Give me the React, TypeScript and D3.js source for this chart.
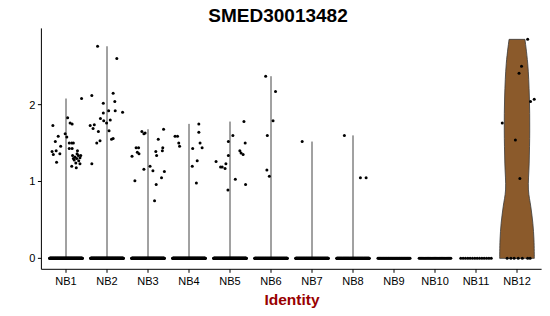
import React from "react";
import * as d3 from "d3";

const TITLE = "SMED30013482";
const X_TITLE = "Identity";
const CATEGORIES = ["NB1", "NB2", "NB3", "NB4", "NB5", "NB6", "NB7", "NB8", "NB9", "NB10", "NB11", "NB12"];
const Y_TICKS = [0, 1, 2];

// non-zero expression values per identity, with the jitter (fraction of a category step)
const NB1_VALUES = [1.73, 1.52, 1.59, 1.46, 1.39, 1.35, 1.4, 1.36, 1.25, 1.62, 1.58, 1.83, 1.76, 1.75, 1.5, 1.5, 1.5, 1.43, 1.43, 1.4, 1.34, 1.32, 1.34, 1.34, 1.3, 1.3, 1.31, 1.2, 1.18, 1.23, 1.24, 2.08, 1.28, 1.36, 1.27];
const NB1_JITTER = [-0.32, -0.26, -0.19, -0.13, -0.34, -0.31, -0.24, -0.15, -0.23, -0.02, 0.02, 0.04, 0.1, 0.15, 0.08, 0.14, 0.18, 0.08, 0.15, 0.28, 0.16, 0.22, 0.3, 0.36, 0.18, 0.26, 0.34, 0.14, 0.25, 0.34, 0.24, 0.38, 0.2, 0.27, 0.31];
const NB2_VALUES = [2.76, 2.6, 2.12, 2.15, 2.02, 2.04, 1.92, 1.92, 1.9, 1.89, 1.82, 1.79, 1.8, 1.76, 1.73, 1.74, 1.69, 1.65, 1.66, 1.56, 1.55, 1.53, 1.5, 1.23];
const NB2_JITTER = [-0.23, 0.24, -0.37, 0.15, -0.09, 0.19, 0.04, 0.2, 0.38, -0.09, -0.16, -0.08, 0.08, -0.01, -0.41, -0.31, -0.34, -0.21, 0.05, 0.15, 0.11, -0.17, -0.25, -0.37];
const NB3_VALUES = [1.65, 1.62, 1.63, 1.68, 1.55, 1.44, 1.44, 1.38, 1.36, 1.33, 1.39, 1.34, 1.44, 1.4, 1.16, 1.2, 1.14, 1.13, 1.01, 1.05, 0.96, 0.75];
const NB3_JITTER = [-0.15, -0.1, -0.07, 0.38, 0.25, -0.29, -0.23, -0.26, -0.22, -0.39, 0.19, 0.21, 0.36, 0.35, -0.1, 0.05, 0.12, 0.4, -0.32, 0.33, 0.2, 0.16];
const NB4_VALUES = [1.59, 1.59, 1.5, 1.46, 1.75, 1.64, 1.43, 1.5, 1.44, 1.27, 1.2, 0.98];
const NB4_JITTER = [-0.34, -0.28, -0.25, -0.23, 0.24, 0.24, 0.09, 0.27, 0.32, 0.2, 0.08, 0.18];
const NB5_VALUES = [1.26, 1.19, 1.19, 1.17, 1.23, 1.34, 1.52, 1.6, 1.78, 1.5, 1.4, 1.37, 1.35, 1.03, 0.89, 0.96];
const NB5_JITTER = [-0.34, -0.23, -0.19, -0.12, -0.1, -0.04, -0.04, 0.07, 0.34, 0.37, 0.24, 0.27, 0.32, 0.13, -0.05, 0.38];
const NB6_VALUES = [2.37, 2.17, 1.79, 1.6, 1.15, 1.07];
const NB6_JITTER = [-0.13, 0.11, 0.05, -0.09, -0.1, -0.04];
const NB7_VALUES = [1.52];
const NB7_JITTER = [-0.24];
const NB8_VALUES = [1.6, 1.05, 1.05];
const NB8_JITTER = [-0.21, 0.18, 0.32];
const NB9_VALUES: number[] = [];
const NB9_JITTER: number[] = [];
const NB10_VALUES: number[] = [];
const NB10_JITTER: number[] = [];
const NB11_VALUES: number[] = [];
const NB11_JITTER: number[] = [];
const NB12_VALUES = [2.85, 2.5, 2.41, 2.04, 2.07, 1.76, 1.54, 1.04, 0, 0, 0, 0, 0, 0, 0];
const NB12_JITTER = [0.26, 0.11, 0.05, 0.33, 0.42, -0.36, -0.04, 0.07, -0.24, -0.15, -0.07, 0.03, 0.13, 0.26, 0.32];

// number of zero-expression cells per identity (NB12 zeros listed above)
const ZERO_COUNTS = [240, 240, 220, 220, 220, 150, 150, 130, 45, 28, 14, 0];

// NB12 violin outline: levels and relative half widths
const NB12_DENSITY_LEVELS = [0, 0.24, 0.455, 0.67, 0.89, 1.24, 1.67, 2.1, 2.54, 2.85];
const NB12_DENSITY_WIDTHS = [0.94, 0.92, 0.86, 0.75, 0.62, 0.66, 0.69, 0.67, 0.58, 0.43];

const GROUP_VALUES = [NB1_VALUES, NB2_VALUES, NB3_VALUES, NB4_VALUES, NB5_VALUES, NB6_VALUES, NB7_VALUES, NB8_VALUES, NB9_VALUES, NB10_VALUES, NB11_VALUES, NB12_VALUES];
const GROUP_JITTER = [NB1_JITTER, NB2_JITTER, NB3_JITTER, NB4_JITTER, NB5_JITTER, NB6_JITTER, NB7_JITTER, NB8_JITTER, NB9_JITTER, NB10_JITTER, NB11_JITTER, NB12_JITTER];

const W = 550;
const H = 316;
const PANEL = { left: 41.4, right: 541.6, top: 28.4, bottom: 269.3 };

export default function App() {
  const x = d3.scalePoint<string>().domain(CATEGORIES).range([PANEL.left, PANEL.right]).padding(0.6);
  const step = x.step();
  const allMax = d3.max(GROUP_VALUES.flat()) as number;
  const pad = allMax * 0.05;
  const y = d3.scaleLinear().domain([-pad, allMax + pad]).range([PANEL.bottom, PANEL.top]);
  const halfMax = (step * 0.9) / 2;

  const nb12Area = d3
    .area<number>()
    .y((_, i) => y(NB12_DENSITY_LEVELS[i]))
    .x0((_, i) => (x("NB12") as number) - NB12_DENSITY_WIDTHS[i] * halfMax)
    .x1((_, i) => (x("NB12") as number) + NB12_DENSITY_WIDTHS[i] * halfMax)
    .curve(d3.curveCatmullRom);

  const font = "'Liberation Sans', Arial, Helvetica, sans-serif";
  const r = 1.5;

  return (
    <svg width={W} height={H} style={{ position: "absolute", left: 0, top: 0, background: "#fff" }}>
      <text x={278} y={22} textAnchor="middle" fontFamily={font} fontWeight="bold" fontSize={19} fill="#000">
        {TITLE}
      </text>

      {/* violins */}
      {CATEGORIES.map((c, i) => {
        const vals = GROUP_VALUES[i];
        if (!vals.length) return null;
        const cx = x(c) as number;
        if (c === "NB12") {
          return (
            <path key={c} d={nb12Area(NB12_DENSITY_LEVELS) || ""} fill="#8B5A2B" stroke="#3a3a3a" strokeWidth={0.8} />
          );
        }
        const mx = d3.max(vals) as number;
        return <line key={c} x1={cx} x2={cx} y1={y(0)} y2={y(mx)} stroke="#444" strokeWidth={1} />;
      })}

      {/* zero points */}
      {CATEGORIES.map((c, i) => {
        const n = ZERO_COUNTS[i];
        const cx = x(c) as number;
        return d3.range(n).map((k) => (
          <circle key={c + "z" + k} cx={cx + (-0.4 + (0.8 * (k + 0.5)) / n) * step} cy={y(0)} r={r} fill="#000" />
        ));
      })}

      {/* nonzero points */}
      {CATEGORIES.map((c, i) =>
        GROUP_VALUES[i].map((v, k) => (
          <circle key={c + "p" + k} cx={(x(c) as number) + GROUP_JITTER[i][k] * step} cy={y(v)} r={r} fill="#000" />
        ))
      )}

      {/* axes */}
      <line x1={PANEL.left} x2={PANEL.left} y1={PANEL.top} y2={PANEL.bottom} stroke="#000" strokeWidth={1} />
      <line x1={PANEL.left} x2={PANEL.right} y1={PANEL.bottom} y2={PANEL.bottom} stroke="#000" strokeWidth={1} />
      {Y_TICKS.map((t) => (
        <g key={"y" + t}>
          <line x1={PANEL.left - 3.5} x2={PANEL.left} y1={y(t)} y2={y(t)} stroke="#000" strokeWidth={1} />
          <text x={PANEL.left - 6} y={y(t)} dy="0.36em" textAnchor="end" fontFamily={font} fontSize={11} fill="#000">
            {t}
          </text>
        </g>
      ))}
      {CATEGORIES.map((c) => (
        <g key={"x" + c}>
          <line x1={x(c)} x2={x(c)} y1={PANEL.bottom} y2={PANEL.bottom + 3.5} stroke="#000" strokeWidth={1} />
          <text x={x(c)} y={285} textAnchor="middle" fontFamily={font} fontSize={11} fill="#000">
            {c}
          </text>
        </g>
      ))}
      <text x={292} y={304.5} textAnchor="middle" fontFamily={font} fontWeight="bold" fontSize={15.5} fill="#990000">
        {X_TITLE}
      </text>
    </svg>
  );
}
